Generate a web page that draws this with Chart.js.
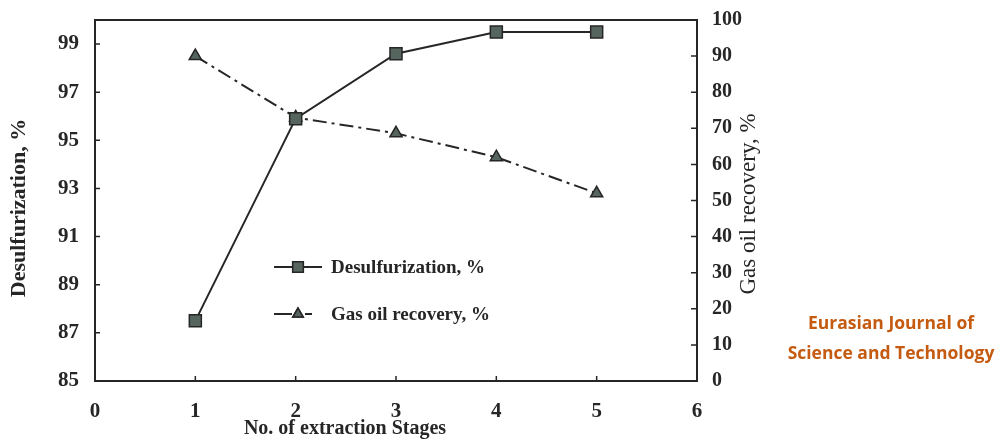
<!DOCTYPE html>
<html>
<head>
<meta charset="utf-8">
<script src="https://cdn.jsdelivr.net/npm/chart.js@4.4.1/dist/chart.umd.min.js"></script>
<style>
  body { margin: 0; background: #fff; }
  #wrap { position: relative; width: 998px; height: 442px; }
  #mark {
    position: absolute; left: 766px; top: 307px; width: 250px;
    text-align: center; color: #c55a11;
    font-family: "Open Sans", sans-serif; font-weight: 700; font-size: 17.5px; line-height: 30px;
  }
</style>
</head>
<body>
<div id="wrap">
  <canvas id="chart" width="998" height="442"></canvas>
  <div id="mark">Eurasian Journal of<br>Science and Technology</div>
</div>
<script>
// Données
const stages = [1, 2, 3, 4, 5];
const desulfurization = [87.5, 95.9, 98.6, 99.5, 99.5];
const gasOilRecovery = [90, 73, 68.6, 62, 52];
const xTicks = [0, 1, 2, 3, 4, 5, 6];
const leftTicks = [85, 87, 89, 91, 93, 95, 97, 99];
const rightTicks = [0, 10, 20, 30, 40, 50, 60, 70, 80, 90, 100];

const ink = '#262626';
const markerFill = '#56665f';
const serif = '"Liberation Serif", "Times New Roman", serif';

// Cadre, petites graduations, titres et légende
const extras = {
  id: 'extras',
  afterDraw(chart) {
    const ctx = chart.ctx;
    const a = chart.chartArea;
    const sx = chart.scales.x, sl = chart.scales.yL, sr = chart.scales.yR;
    ctx.save();
    ctx.strokeStyle = ink;
    ctx.lineWidth = 2;
    ctx.strokeRect(a.left, a.top, a.right - a.left, a.bottom - a.top);

    ctx.lineWidth = 1.5;
    ctx.beginPath();
    xTicks.slice(1, -1).forEach(v => {
      const px = sx.getPixelForValue(v);
      ctx.moveTo(px, a.bottom); ctx.lineTo(px, a.bottom - 5);
    });
    leftTicks.slice(1).forEach(v => {
      const py = sl.getPixelForValue(v);
      ctx.moveTo(a.left, py); ctx.lineTo(a.left + 5, py);
    });
    rightTicks.slice(1, -1).forEach(v => {
      const py = sr.getPixelForValue(v);
      ctx.moveTo(a.right, py); ctx.lineTo(a.right - 6, py);
    });
    ctx.stroke();

    ctx.fillStyle = ink;
    ctx.textAlign = 'center';
    ctx.textBaseline = 'middle';
    // titre axe x
    ctx.font = 'bold 20px ' + serif;
    ctx.fillText('No. of extraction Stages', 345, 429);
    // titre axe gauche
    ctx.save();
    ctx.translate(19, 208);
    ctx.rotate(-Math.PI / 2);
    ctx.font = 'bold 22px ' + serif;
    ctx.fillText('Desulfurization, %', 0, 0);
    ctx.restore();
    // titre axe droit, lu de bas en haut
    ctx.translate(749, 204);
    ctx.rotate(-Math.PI / 2);
    ctx.font = '23px ' + serif;
    ctx.fillText('Gas oil recovery, %', 0, 0);
    ctx.restore();

    // légende
    ctx.save();
    const items = [
      { y: 267, ds: chart.data.datasets[0] },
      { y: 314, ds: chart.data.datasets[1] }
    ];
    items.forEach((it, i) => {
      ctx.strokeStyle = ink;
      ctx.lineWidth = 2;
      ctx.beginPath();
      if (i === 0) {
        ctx.moveTo(274, it.y); ctx.lineTo(322, it.y);
      } else {
        ctx.moveTo(274, it.y); ctx.lineTo(292, it.y);
        ctx.moveTo(305, it.y); ctx.lineTo(312, it.y);
      }
      ctx.stroke();
      ctx.fillStyle = markerFill;
      ctx.lineWidth = 1.5;
      Chart.helpers.drawPoint(ctx, {
        pointStyle: it.ds.pointStyle, radius: it.ds.pointRadius - 1, borderWidth: 1.5
      }, 298, it.y);
      ctx.fill();
      ctx.stroke();
      ctx.fillStyle = ink;
      ctx.font = 'bold 19px ' + serif;
      ctx.textAlign = 'left';
      ctx.textBaseline = 'middle';
      ctx.fillText(it.ds.label, 331, it.y + 1);
    });
    ctx.restore();
  }
};

// axes verticaux sans marge automatique en haut / en bas
function fixY(width) {
  return s => { s.width = width; s.paddingTop = 0; s.paddingBottom = 0; };
}

const ctx = document.getElementById('chart').getContext('2d');
new Chart(ctx, {
  type: 'scatter',
  data: {
    datasets: [{
      label: 'Desulfurization, %',
      data: stages.map((s, i) => ({ x: s, y: desulfurization[i] })),
      yAxisID: 'yL',
      showLine: true,
      borderColor: ink,
      borderWidth: 2,
      pointStyle: 'rect',
      pointRadius: 8.5,
      pointBackgroundColor: markerFill,
      pointBorderColor: ink,
      pointBorderWidth: 1.5
    }, {
      label: 'Gas oil recovery, %',
      data: stages.map((s, i) => ({ x: s, y: gasOilRecovery[i] })),
      yAxisID: 'yR',
      showLine: true,
      borderColor: ink,
      borderWidth: 2,
      borderDash: [14, 5, 3, 5],
      pointStyle: 'triangle',
      pointRadius: 7,
      pointBackgroundColor: markerFill,
      pointBorderColor: ink,
      pointBorderWidth: 1.5
    }]
  },
  options: {
    responsive: false,
    animation: false,
    layout: { padding: { top: 20, right: 241, left: 0, bottom: 0 } },
    plugins: { legend: { display: false }, tooltip: { enabled: false } },
    scales: {
      x: {
        type: 'linear', min: 0, max: 6,
        afterBuildTicks: s => { s.ticks = xTicks.map(v => ({ value: v })); },
        afterFit: s => { s.height = 61; s.paddingLeft = 0; s.paddingRight = 0; },
        grid: { display: false, drawTicks: false },
        border: { display: false },
        ticks: { padding: 18, color: ink, font: { family: serif, size: 21, weight: 'bold' } }
      },
      yL: {
        type: 'linear', position: 'left', min: 85, max: 100,
        afterBuildTicks: s => { s.ticks = leftTicks.map(v => ({ value: v })); },
        afterFit: fixY(95),
        grid: { display: false, drawTicks: false },
        border: { display: false },
        ticks: { padding: 16, color: ink, font: { family: serif, size: 21, weight: 'bold' } }
      },
      yR: {
        type: 'linear', position: 'right', min: 0, max: 100,
        afterBuildTicks: s => { s.ticks = rightTicks.map(v => ({ value: v })); },
        afterFit: fixY(60),
        grid: { display: false, drawTicks: false },
        border: { display: false },
        ticks: { padding: 15, color: ink, font: { family: serif, size: 20, weight: 'bold' } }
      }
    }
  },
  plugins: [extras]
});
</script>
</body>
</html>
